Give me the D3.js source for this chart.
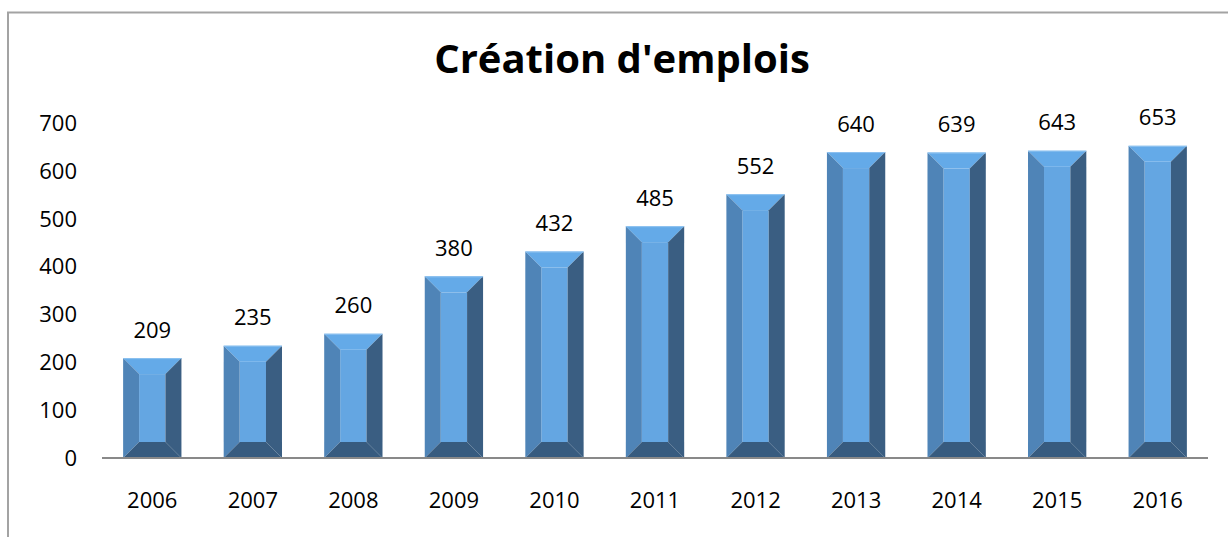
<!DOCTYPE html>
<html>
<head>
<meta charset="utf-8">
<script src="https://cdn.jsdelivr.net/npm/d3@7"></script>
<style>
  body { margin: 0; background: #fff; }
  text { font-family: "Open Sans", sans-serif; fill: #000; }
</style>
</head>
<body>
<svg id="chart"></svg>
<script>
// données
var years = ["2006", "2007", "2008", "2009", "2010", "2011", "2012", "2013", "2014", "2015", "2016"];
var values = [209, 235, 260, 380, 432, 485, 552, 640, 639, 643, 653];
var yTicks = [0, 100, 200, 300, 400, 500, 600, 700];
var title = "Création d'emplois";

var svgWidth = 1228, svgHeight = 537;
var bevel = 16;

var svg = d3.select("svg#chart")
  .attr("width", svgWidth)
  .attr("height", svgHeight);

// cadre (gauche + haut)
svg.append("path")
  .attr("d", "M8," + svgHeight + "V12.5H" + svgWidth)
  .attr("fill", "none")
  .attr("stroke", "#a3a3a3")
  .attr("stroke-width", 2);

svg.append("text")
  .attr("x", 622)
  .attr("y", 73)
  .attr("text-anchor", "middle")
  .style("font-weight", "bold")
  .style("font-size", "40px")
  .text(title);

var xScale = d3.scaleBand()
  .domain(years)
  .range([102, 1208])
  .paddingInner(0.42)
  .paddingOuter(0.21);

var yScale = d3.scaleLinear()
  .domain([0, 700])
  .range([458, 123.4]);

// axe Y
var yAxis = svg.append("g")
  .attr("transform", "translate(77,0)")
  .call(d3.axisLeft(yScale).tickValues(yTicks).tickSize(0).tickPadding(0));
yAxis.select(".domain").remove();
yAxis.selectAll("text")
  .style("font-size", "22px")
  .attr("fill", "#000");

// barres biseautées
var bars = svg.append("g").selectAll("g")
  .data(values)
  .enter().append("g");

function poly(pts) { return "M" + pts.map(function(p) { return p.join(","); }).join("L") + "Z"; }

bars.each(function(d, i) {
  var g = d3.select(this);
  var x0 = xScale(years[i]), x1 = x0 + xScale.bandwidth();
  var y0 = yScale(d), yb = yScale(0);
  var b = bevel;
  g.append("rect")
    .attr("x", x0 + b).attr("y", y0 + b)
    .attr("width", x1 - x0 - 2 * b).attr("height", yb - y0 - 2 * b)
    .attr("fill", "#64a6e2");
  g.append("path").attr("d", poly([[x0, y0], [x1, y0], [x1 - b, y0 + b], [x0 + b, y0 + b]])).attr("fill", "#64aae8");
  g.append("path").attr("d", poly([[x0, y0], [x0 + b, y0 + b], [x0 + b, yb - b], [x0, yb]])).attr("fill", "#4f84b7");
  g.append("path").attr("d", poly([[x1, y0], [x1, yb], [x1 - b, yb - b], [x1 - b, y0 + b]])).attr("fill", "#3a5e82");
  g.append("path").attr("d", poly([[x0, yb], [x0 + b, yb - b], [x1 - b, yb - b], [x1, yb]])).attr("fill", "#375b7f");
  g.append("line")
    .attr("x1", x0).attr("x2", x1).attr("y1", y0 + 0.5).attr("y2", y0 + 0.5)
    .attr("stroke", "#8fc3f0").attr("stroke-width", 1);
});

// étiquettes de valeurs
svg.append("g").selectAll("text")
  .data(values)
  .enter().append("text")
  .attr("x", function(d, i) { return xScale(years[i]) + xScale.bandwidth() / 2; })
  .attr("y", function(d) { return yScale(d) - 20.5; })
  .attr("text-anchor", "middle")
  .style("font-size", "22px")
  .text(function(d) { return d; });

// axe X
var xAxis = svg.append("g")
  .attr("transform", "translate(0,458)")
  .call(d3.axisBottom(xScale).tickSize(0).tickPadding(34));
xAxis.select(".domain")
  .attr("d", "M" + xScale.range()[0] + ",0H" + xScale.range()[1])
  .attr("stroke", "#898989")
  .attr("stroke-width", 2);
xAxis.selectAll("text")
  .style("font-size", "22px")
  .attr("fill", "#000");
</script>
</body>
</html>
